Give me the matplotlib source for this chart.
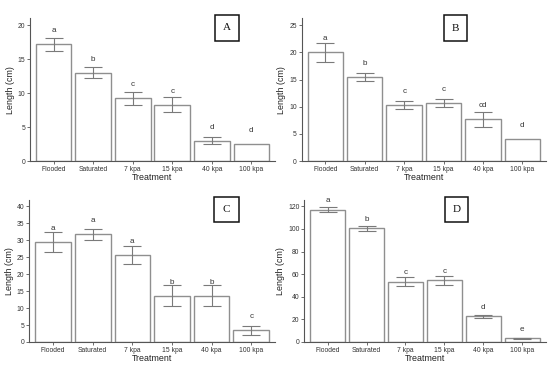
import matplotlib
matplotlib.use("Agg")
import matplotlib.pyplot as plt
from matplotlib.patches import Rectangle
import numpy as np

categories = ["Flooded", "Saturated", "7 kpa", "15 kpa", "40 kpa", "100 kpa"]

a_mean = [17.2, 13.0, 9.2, 8.25, 3.0, 2.5]
a_err = [0.95, 0.8, 0.9, 1.1, 0.5, 0.0]
a_letters = ["a", "b", "c", "c", "d", "d"]

b_mean = [20.0, 15.5, 10.3, 10.65, 7.7, 4.05]
b_err = [1.75, 0.75, 0.7, 0.75, 1.4, 0.0]
b_letters = ["a", "b", "c", "c", "cd", "d"]

c_mean = [29.4, 31.7, 25.6, 13.6, 13.6, 3.4]
c_err = [3.0, 1.7, 2.6, 3.1, 3.1, 1.45]
c_letters = ["a", "a", "a", "b", "b", "c"]

d_mean = [117.0, 100.4, 53.5, 54.6, 22.6, 3.3]
d_err = [2.0, 2.5, 4.4, 4.1, 1.0, 0.5]
d_letters = ["a", "b", "c", "c", "d", "e"]

a_ticks = [0, 5, 10, 15, 20]
b_ticks = [0, 5, 10, 15, 20, 25]
c_ticks = [0, 5, 10, 15, 20, 25, 30, 35, 40]
d_ticks = [0, 20, 40, 60, 80, 100, 120]

panel_names = ["A", "B", "C", "D"]

W, H = 550, 365
fig = plt.figure(figsize=(W / 100, H / 100), dpi=100)
fig.patch.set_facecolor("white")

# layout in pixels: left, right, bottom(y of zero), top, ymax, letter offset
layouts = [
    (30.0, 275.0, 161.0, 18.3, 21.0, 2.0),
    (301.7, 546.0, 161.0, 18.3, 26.3, 2.5),
    (29.3, 275.0, 342.0, 200.0, 41.8, 4.0),
    (304.3, 545.6, 342.0, 200.0, 125.6, 8.0),
]
boxes = [
    (215.3, 238.7, 15.3, 40.7),
    (443.7, 467.3, 15.3, 41.0),
    (214.3, 238.7, 196.7, 222.3),
    (445.0, 468.3, 196.7, 222.3),
]
datasets = [
    (a_mean, a_err, a_letters, a_ticks),
    (b_mean, b_err, b_letters, b_ticks),
    (c_mean, c_err, c_letters, c_ticks),
    (d_mean, d_err, d_letters, d_ticks),
]

axis_col = "#555555"
bar_edge = "#8f8f8f"
err_col = "#7a7a7a"
txt_col = "#333333"

for (l, r, b, t, ytop, off), (means, errs, letters, ticks), box, name in zip(
        layouts, datasets, boxes, panel_names):
    ax = fig.add_axes([l / W, (H - b) / H, (r - l) / W, (b - t) / H])
    x = np.arange(len(categories))
    ax.bar(x, means, width=0.9, color="white", edgecolor=bar_edge, linewidth=1.0, zorder=2)
    e = np.array(errs)
    has = e > 0
    ax.errorbar(x[has], np.array(means)[has], yerr=e[has], fmt="none", ecolor=err_col,
                elinewidth=0.8, capsize=6.8, capthick=0.8, zorder=3)
    for xi, m, lab in zip(x, means, letters):
        ax.text(xi, m + off, lab, ha="center", va="center", fontsize=5.8,
                color=txt_col, family="Liberation Sans", zorder=4)
    ax.set_xticks(x)
    ax.set_xticklabels(categories)
    ax.set_yticks(ticks)
    ax.set_xlim(-0.6, len(categories) - 0.4)
    ax.set_ylim(0, ytop)
    for s in ["top", "right"]:
        ax.spines[s].set_visible(False)
    for s in ["left", "bottom"]:
        ax.spines[s].set_color(axis_col)
        ax.spines[s].set_linewidth(0.8)
    ax.tick_params(axis="both", length=2.0, width=0.6, color=axis_col, pad=1.5,
                   labelsize=4.9, labelcolor=txt_col)
    for lbl in ax.get_xticklabels() + ax.get_yticklabels():
        lbl.set_family("Liberation Sans")
    ax.set_xlabel("Treatment", fontsize=6.4, family="Liberation Sans", color="#222222", labelpad=0.3)
    ax.set_ylabel("Length (cm)", fontsize=6.4, family="Liberation Sans", color="#222222", labelpad=2)
    ax.patch.set_alpha(0)

    bx0, bx1, by0, by1 = box
    fig.patches.append(Rectangle((bx0 / W, (H - by1) / H), (bx1 - bx0) / W, (by1 - by0) / H,
                                 transform=fig.transFigure, facecolor="white",
                                 edgecolor="#111111", linewidth=1.1, zorder=5))
    fig.text((bx0 + bx1) / 2 / W, (H - (by0 + by1) / 2) / H, name, ha="center", va="center",
             fontsize=8, family="Liberation Serif", color="#111111", zorder=6)

fig.savefig("out.png", dpi=100)
